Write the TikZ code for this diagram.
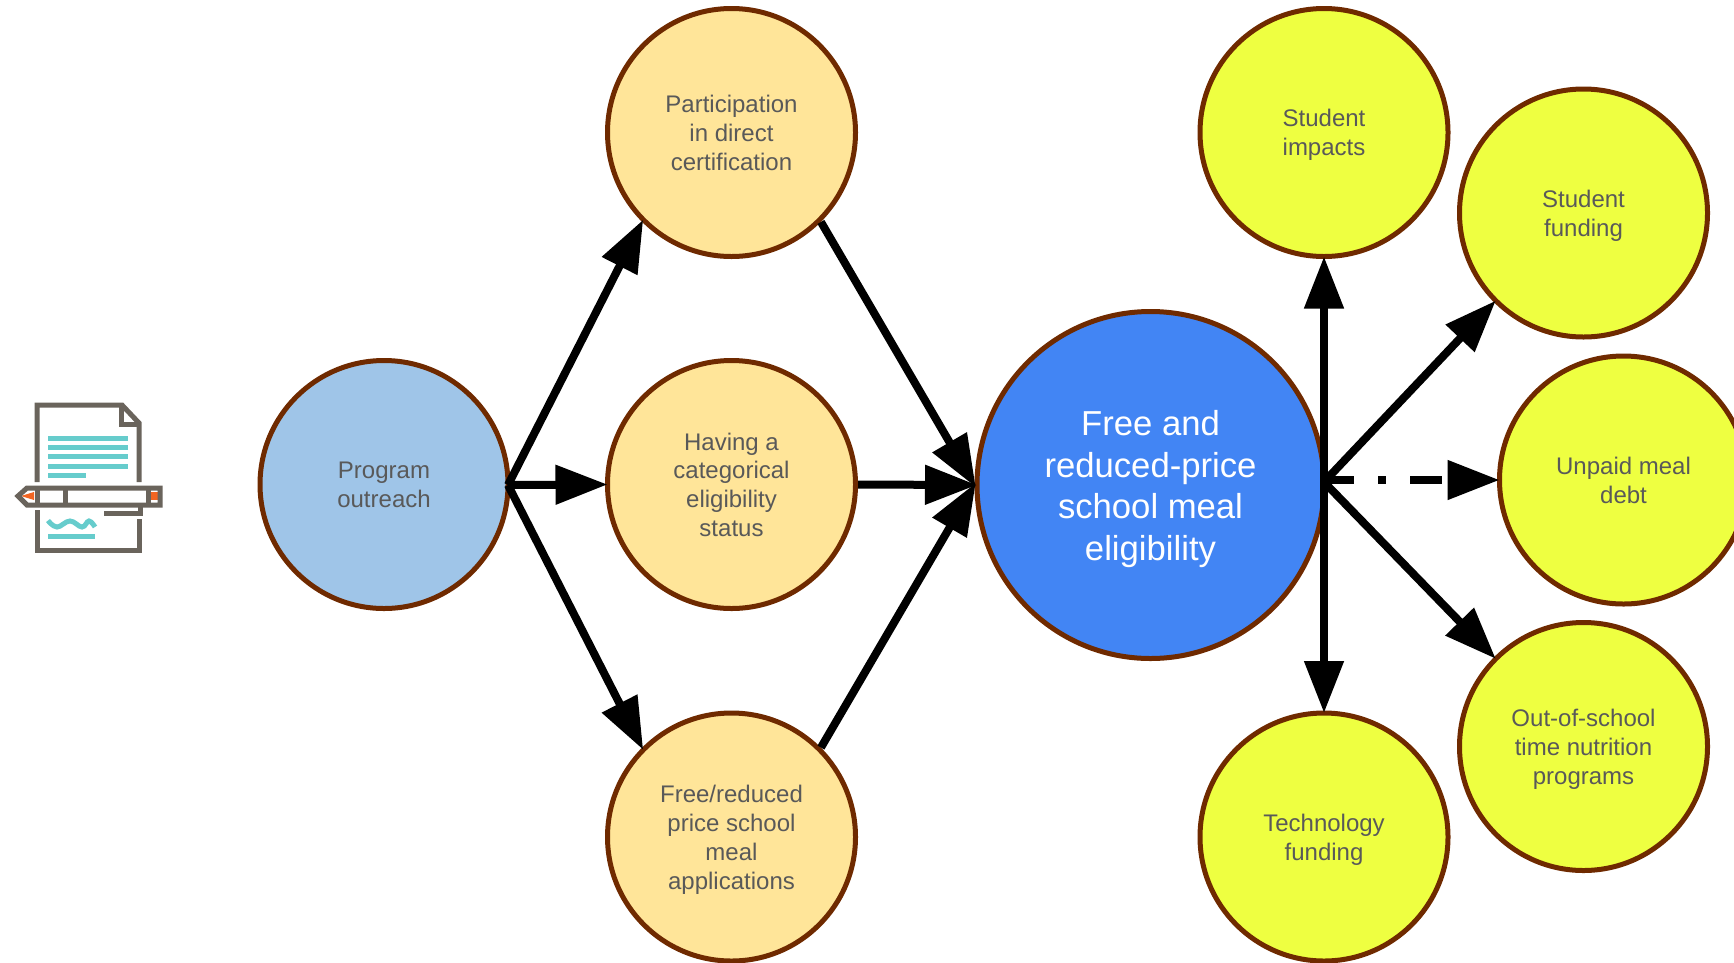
\documentclass[tikz,border=0pt]{standalone}
\usepackage{fontspec}
\setmainfont{Liberation Sans}
\usetikzlibrary{arrows.meta}
\definecolor{edgebrown}{HTML}{6F2A00}
\definecolor{textgray}{HTML}{595959}
\definecolor{iconteal}{HTML}{66CCCC}
\definecolor{icongray}{HTML}{6A645C}
\definecolor{iconorange}{HTML}{F26522}
\definecolor{progblue}{HTML}{9FC5E8}
\definecolor{midorange}{HTML}{FFE599}
\definecolor{eligblue}{HTML}{4285F4}
\definecolor{outyellow}{HTML}{EEFF41}
\newcommand\linestrut{\rule[-0.32em]{0pt}{1.38em}}
\tikzset{
  bubble/.style={circle,draw=edgebrown,line width=5pt,minimum size=248pt,inner sep=0pt,align=center,
    text=textgray,font=\fontsize{24}{28.8}\selectfont,execute at end node=\linestrut},
  link/.style={line width=8pt,shorten >=-2.5pt,-{Triangle[length=52pt,width=38pt]}},
  iconline/.style={line width=5pt,icongray},
  iconbar/.style={line width=5pt,iconteal}
}
\begin{document}
\begin{tikzpicture}[x=1pt,y=-1pt]
\useasboundingbox (0,0) rectangle (1734,962);

\node[bubble,fill=progblue](prog) at (384,484.5) {\linestrut Program\\outreach};

\node[bubble,fill=midorange](part) at (731.5,132.5) {\linestrut Participation\\in direct\\certification};
\node[bubble,fill=midorange](cat) at (731.5,484.5) {\linestrut Having a\\categorical\\eligibility\\status};
\node[bubble,fill=midorange](app) at (731.5,837) {\linestrut Free/reduced\\price school\\meal\\applications};

\node[bubble,fill=eligblue,minimum size=347pt,text=white,
  font=\fontsize{34.67}{41.5}\selectfont](elig) at (1150.5,485) {\linestrut Free and\\reduced-price\\school meal\\eligibility};

\node[bubble,fill=outyellow](imp) at (1324,132.5) {\linestrut Student\\impacts};
\node[bubble,fill=outyellow](fund) at (1583.5,213) {\linestrut Student\\funding};
\node[bubble,fill=outyellow](debt) at (1623.5,480) {\linestrut Unpaid meal\\debt};
\node[bubble,fill=outyellow](ost) at (1583.5,746.5) {\linestrut Out-of-school\\time nutrition\\programs};
\node[bubble,fill=outyellow](tech) at (1324,837) {\linestrut Technology\\funding};

\coordinate(hubl) at (508,485);
\coordinate(hubr) at (1322,480);
\coordinate(hubm) at (1324,482);

\draw[link] (hubl) -- (part.225);
\draw[link] (hubl) -- (cat.west);
\draw[link] (hubl) -- (app.135);

\draw[link] (part.-45) -- (elig.west);
\draw[link] (cat.east) -- (elig.west);
\draw[link] (app.45) -- (elig.west);

\draw[link] (hubm) -- (imp.south);
\draw[link] (hubm) -- (tech.north);
\draw[link] (hubm) -- (fund.225);
\draw[link] (hubm) -- (ost.135);
\draw[link,dash pattern=on 32pt off 24pt on 8pt off 24pt] (hubr) -- (debt.west);

% icon
\draw[iconline] (37,482) -- (37,405) -- (122,405) -- (139,423) -- (139,482);
\draw[iconline] (121,405) -- (121,424) -- (139,424);
\draw[iconline] (37,510) -- (37,550) -- (139,550) -- (139,519);
\foreach \y in {438,447,456.5,466} \draw[iconbar] (48,\y) -- (128,\y);
\draw[iconbar] (48,475) -- (86,475);
\draw[iconbar] plot[smooth,tension=0.7] coordinates {(48,520.5) (57,527) (70,521) (82,527) (89,521) (95,527)};
\draw[iconbar] (48,536) -- (95,536);
\fill[iconorange] (21,496) -- (34,492) -- (34,500) -- cycle;
\fill[iconorange] (151,492) rectangle (158,500);
\draw[iconline] (18,496) -- (27,488) -- (160,488) -- (160,505) -- (27,505) -- cycle;
\draw[iconline] (37,488) -- (37,505);
\draw[iconline] (65,488) -- (65,505);
\draw[iconline] (148,488) -- (148,505);
\draw[iconline] (140,505) -- (140,513) -- (104,513);

\end{tikzpicture}
\end{document}
